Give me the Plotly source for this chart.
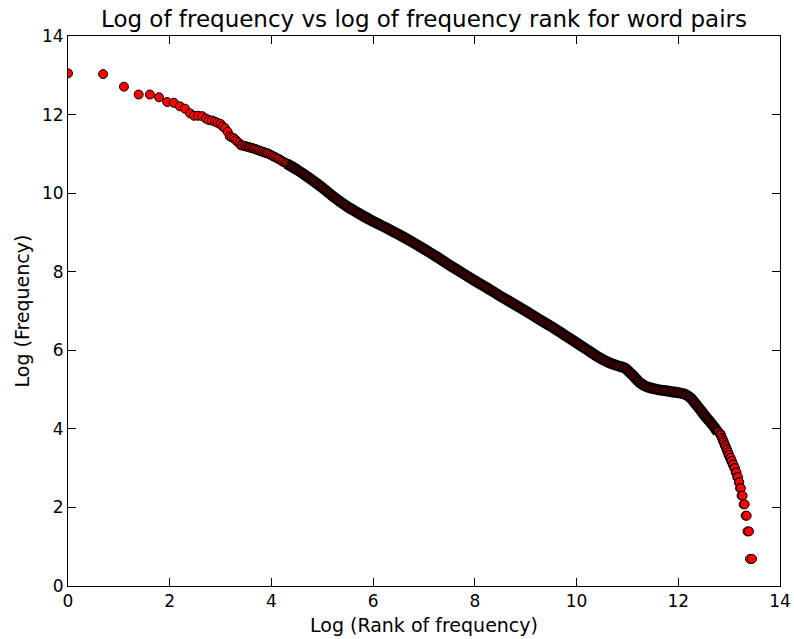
import plotly.graph_objects as go

# --- data (x = log rank, y = log frequency) ---
head_x = [0.00, 0.69, 1.10, 1.39, 1.61, 1.79, 1.95, 2.08, 2.20, 2.30,
          2.40, 2.48, 2.56, 2.64, 2.71, 2.77, 2.83, 2.89, 2.94, 3.00,
          3.04, 3.09, 3.14, 3.18, 3.22, 3.26, 3.30, 3.33, 3.37, 3.40,
          3.43, 3.47, 3.50, 3.53, 3.56, 3.58, 3.61, 3.64, 3.66, 3.69,
          3.72, 3.75, 3.78, 3.81, 3.84, 3.87, 3.90, 3.93, 3.96, 3.99,
          4.02, 4.05, 4.08, 4.11, 4.14, 4.17, 4.20, 4.23, 4.26, 4.29,
          4.32, 4.35, 4.38, 4.41, 4.44]
head_y = [13.05, 13.03, 12.71, 12.51, 12.51, 12.44, 12.32, 12.30, 12.21, 12.15,
          12.03, 11.97, 11.97, 11.96, 11.90, 11.86, 11.85, 11.82, 11.79, 11.76,
          11.70, 11.65, 11.56, 11.45, 11.42, 11.40, 11.35, 11.31, 11.27, 11.22,
          11.21, 11.20, 11.19, 11.18, 11.17, 11.16, 11.15, 11.14, 11.13, 11.12,
          11.10, 11.09, 11.07, 11.06, 11.05, 11.03, 11.02, 11.01, 10.99, 10.97,
          10.95, 10.93, 10.91, 10.89, 10.87, 10.85, 10.82, 10.80, 10.78, 10.76,
          10.74, 10.72, 10.70, 10.68, 10.66]

body_x = [4.30, 4.50, 4.75, 5.00, 5.25, 5.50, 5.75, 6.00, 6.25, 6.50,
          6.75, 7.00, 7.25, 7.50, 7.75, 8.00, 8.25, 8.50, 8.75, 9.00,
          9.25, 9.50, 9.75, 10.00, 10.20, 10.40, 10.60, 10.80, 10.95, 11.10,
          11.25, 11.40, 11.60, 11.80, 12.00, 12.15, 12.25, 12.35, 12.45, 12.55,
          12.65, 12.72, 12.78]
body_y = [10.75, 10.60, 10.38, 10.14, 9.88, 9.65, 9.46, 9.28, 9.12, 8.95,
          8.77, 8.58, 8.38, 8.17, 7.97, 7.77, 7.58, 7.38, 7.19, 7.00,
          6.80, 6.61, 6.40, 6.19, 6.02, 5.85, 5.71, 5.61, 5.55, 5.37,
          5.17, 5.06, 5.00, 4.96, 4.92, 4.87, 4.78, 4.62, 4.46, 4.29,
          4.14, 4.02, 3.91]

tail_x = [12.80, 12.82, 12.83, 12.84, 12.855, 12.87, 12.88, 12.89, 12.90, 12.915,
          12.925, 12.935, 12.95, 12.96, 12.97, 12.98, 12.99, 13.00, 13.015, 13.03,
          13.04, 13.055, 13.07, 13.085, 13.10, 13.115, 13.13, 13.145, 13.16, 13.175,
          13.19, 13.20, 13.215, 13.23, 13.245, 13.265, 13.285, 13.305, 13.325, 13.345,
          13.36, 13.39, 13.41, 13.45]
tail_y = [3.91, 3.87, 3.87, 3.83, 3.78, 3.74, 3.69, 3.69, 3.64, 3.58,
          3.58, 3.53, 3.47, 3.47, 3.40, 3.40, 3.33, 3.33, 3.26, 3.26,
          3.18, 3.18, 3.09, 3.09, 3.00, 3.00, 2.89, 2.89, 2.77, 2.77,
          2.64, 2.64, 2.49, 2.49, 2.30, 2.30, 2.08, 2.08, 1.79, 1.79,
          1.39, 1.39, 0.69, 0.69]

x_ticks = [0, 2, 4, 6, 8, 10, 12, 14]
y_ticks = [0, 2, 4, 6, 8, 10, 12, 14]

title_text = "Log of frequency vs log of frequency rank for word pairs"
x_label = "Log (Rank of frequency)"
y_label = "Log (Frequency)"

FONT = "DejaVu Sans"
marker_style = dict(size=9, color="#ff0000", line=dict(color="black", width=1))

fig = go.Figure()
# sparse head of the distribution
fig.add_trace(go.Scatter(x=head_x, y=head_y, mode="markers", marker=marker_style,
                         showlegend=False, hoverinfo="skip"))
# dense body: overlapping markers render as a dark band
fig.add_trace(go.Scatter(x=body_x, y=body_y, mode="lines",
                         line=dict(color="black", width=11, shape="spline", smoothing=0.6),
                         showlegend=False, hoverinfo="skip"))
fig.add_trace(go.Scatter(x=body_x, y=body_y, mode="lines",
                         line=dict(color="#320000", width=6, shape="spline", smoothing=0.6),
                         showlegend=False, hoverinfo="skip"))
# discrete tail
fig.add_trace(go.Scatter(x=tail_x, y=tail_y, mode="markers", marker=marker_style,
                         showlegend=False, hoverinfo="skip"))

axis_common = dict(
    showgrid=False, zeroline=False, showline=True, linecolor="black", linewidth=1,
    mirror="allticks", ticks="inside", ticklen=8, tickwidth=1, tickcolor="black",
    tickfont=dict(family=FONT, size=17, color="black"), automargin=False,
)

label_font = dict(family=FONT, size=19, color="black")

fig.update_layout(
    width=794, height=639,
    margin=dict(l=68, r=14, t=36, b=53, autoexpand=False),
    paper_bgcolor="white", plot_bgcolor="white",
    title=dict(text=title_text, x=0.5, xanchor="center", y=0.970, yanchor="middle",
               xref="paper",
               font=dict(family=FONT, size=23, color="black")),
    xaxis=dict(range=[0, 14], tickvals=x_ticks, ticktext=[str(v) for v in x_ticks],
               **axis_common),
    yaxis=dict(range=[0, 14], tickvals=y_ticks, ticktext=[str(v) for v in y_ticks],
               **axis_common),
    annotations=[
        dict(text=x_label, xref="paper", yref="paper", x=0.5, y=-39 / 550,
             xanchor="center", yanchor="middle", showarrow=False, font=label_font),
        dict(text=y_label, xref="paper", yref="paper", x=-46.5 / 712, y=0.5,
             xanchor="center", yanchor="middle", textangle=-90, showarrow=False,
             font=label_font),
    ],
)

# remove the default page margin so the 794x639 figure fills the window exactly
fig.write_html("out.html",
               config={"displayModeBar": False},
               post_script="document.body.style.margin='0';document.body.style.overflow='hidden';")
